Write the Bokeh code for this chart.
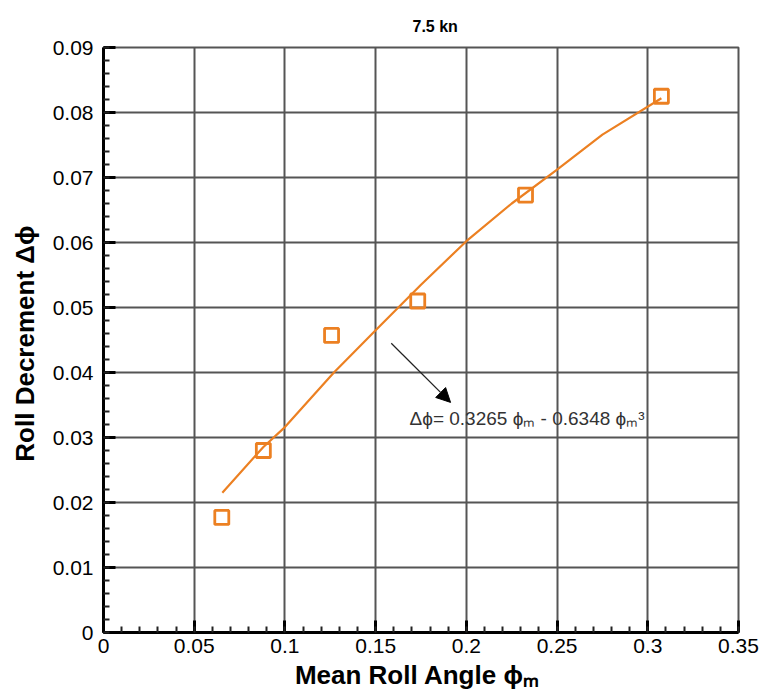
from bokeh.plotting import figure
from bokeh.models import Label, Arrow, NormalHead, FixedTicker, Range1d
from bokeh.embed import file_html
from bokeh.resources import INLINE

# Data
phi_m = [0.0652, 0.0881, 0.1257, 0.1732, 0.2326, 0.3075]
delta_phi = [0.0177, 0.0280, 0.0457, 0.0510, 0.0673, 0.0825]

# Fit curve
fit_x = [0.0655, 0.088, 0.100, 0.127, 0.150, 0.175, 0.200, 0.225, 0.250, 0.275, 0.3075]
fit_y = [0.0215, 0.0285, 0.0316, 0.0400, 0.0465, 0.0535, 0.0602, 0.0660, 0.0712, 0.0766, 0.0822]

x_ticks = [0, 0.05, 0.1, 0.15, 0.2, 0.25, 0.3, 0.35]
x_tick_labels = ["0", "0.05", "0.1", "0.15", "0.2", "0.25", "0.3", "0.35"]
y_ticks = [0, 0.01, 0.02, 0.03, 0.04, 0.05, 0.06, 0.07, 0.08, 0.09]
y_tick_labels = ["0", "0.01", "0.02", "0.03", "0.04", "0.05", "0.06", "0.07", "0.08", "0.09"]
x_minor = [round(i * 0.01, 4) for i in range(36)]
y_minor = [round(i * 0.002, 4) for i in range(46)]

FONT = "Liberation Sans"
ORANGE = "#EC8022"

p = figure(width=765, height=697, output_backend="svg", toolbar_location=None,
           x_range=Range1d(0, 0.35), y_range=Range1d(0, 0.09),
           min_border_left=103, min_border_right=27, min_border_top=47, min_border_bottom=65,
           title="7.5 kn")
p.title.text_font = FONT
p.title.text_font_size = "16px"
p.title.text_font_style = "bold"
p.title.text_color = "black"
p.title.align = "left"
p.title.offset = 309
p.title.standoff = 26
p.background_fill_color = "white"
p.border_fill_color = "white"
p.outline_line_color = "#555555"
p.outline_line_width = 2

p.xaxis.ticker = FixedTicker(ticks=x_ticks, minor_ticks=x_minor)
p.yaxis.ticker = FixedTicker(ticks=y_ticks, minor_ticks=y_minor)
p.xaxis.major_label_overrides = {t: l for t, l in zip(x_ticks, x_tick_labels)}
p.yaxis.major_label_overrides = {t: l for t, l in zip(y_ticks, y_tick_labels)}

for ax in (p.xaxis, p.yaxis):
    ax.axis_line_color = "black"
    ax.axis_line_width = 3
    ax.major_tick_in = 12
    ax.major_tick_out = 0
    ax.major_tick_line_width = 3
    ax.major_tick_line_color = "black"
    ax.minor_tick_in = 6
    ax.minor_tick_out = 0
    ax.minor_tick_line_width = 2
    ax.minor_tick_line_color = "#222222"
    ax.major_label_text_font = FONT
    ax.major_label_text_font_size = "21px"
    ax.major_label_text_color = "black"
    ax.axis_label_text_font = FONT
    ax.axis_label_text_font_style = "bold"
    ax.axis_label_text_font_size = "26px"
    ax.axis_label_text_color = "black"

p.xaxis.axis_label = "Mean Roll Angle  ϕₘ"
p.yaxis.axis_label = "Roll Decrement  Δϕ"
p.xaxis.major_label_standoff = 6
p.yaxis.major_label_standoff = 10
p.xaxis.axis_label_standoff = 4
p.yaxis.axis_label_standoff = 10

p.xgrid.ticker = FixedTicker(ticks=x_ticks)
p.ygrid.ticker = FixedTicker(ticks=y_ticks)
p.grid.grid_line_color = "#555555"
p.grid.grid_line_width = 2

p.line(fit_x, fit_y, line_color=ORANGE, line_width=2.2)
p.scatter(phi_m, delta_phi, marker="square", size=14, line_color=ORANGE,
          line_width=2.8, fill_alpha=0)

p.add_layout(Arrow(end=NormalHead(size=14, fill_color="black", line_color="black"),
                   x_start=0.1586, y_start=0.0445, x_end=0.1913, y_end=0.0354,
                   line_color="#222222", line_width=1.3))

p.add_layout(Label(x=0.1687, y=0.0329, text="Δϕ= 0.3265 ϕₘ - 0.6348 ϕₘ³",
                   text_font=FONT, text_font_size="19px", text_color="#333333",
                   text_baseline="middle", text_align="left"))

open("out.html", "w").write(file_html(p, INLINE))
